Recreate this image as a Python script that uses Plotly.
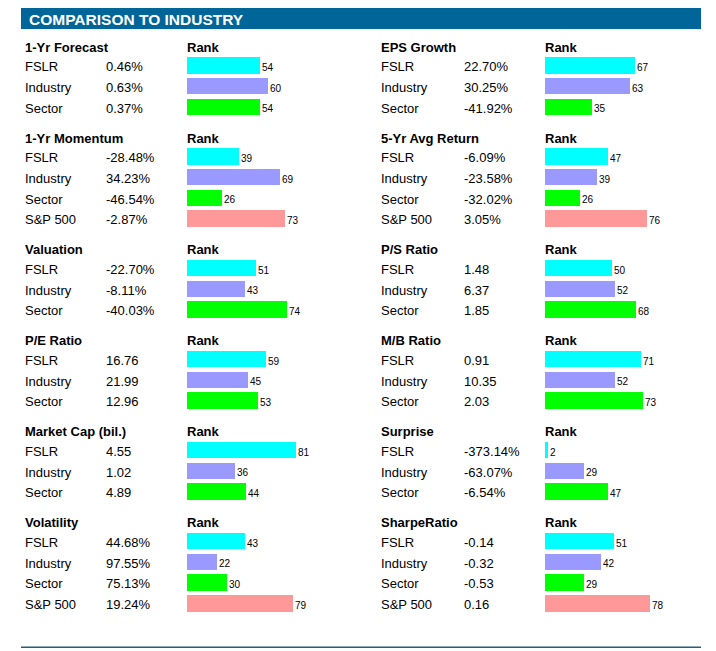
import plotly.graph_objects as go

W, H = 716, 651

# ---------------- data ----------------
row_names = ["FSLR", "Industry", "Sector", "S&P 500"]
row_colors = ["#00FFFF", "#9999FF", "#00FF00", "#FF9999"]

left_titles = ["1-Yr Forecast", "1-Yr Momentum", "Valuation", "P/E Ratio",
               "Market Cap (bil.)", "Volatility"]
left_values = [["0.46%", "0.63%", "0.37%"],
               ["-28.48%", "34.23%", "-46.54%", "-2.87%"],
               ["-22.70%", "-8.11%", "-40.03%"],
               ["16.76", "21.99", "12.96"],
               ["4.55", "1.02", "4.89"],
               ["44.68%", "97.55%", "75.13%", "19.24%"]]
left_ranks = [[54, 60, 54], [39, 69, 26, 73], [51, 43, 74], [59, 45, 53],
              [81, 36, 44], [43, 22, 30, 79]]

right_titles = ["EPS Growth", "5-Yr Avg Return", "P/S Ratio", "M/B Ratio",
                "Surprise", "SharpeRatio"]
right_values = [["22.70%", "30.25%", "-41.92%"],
                ["-6.09%", "-23.58%", "-32.02%", "3.05%"],
                ["1.48", "6.37", "1.85"],
                ["0.91", "10.35", "2.03"],
                ["-373.14%", "-63.07%", "-6.54%"],
                ["-0.14", "-0.32", "-0.53", "0.16"]]
right_ranks = [[67, 63, 35], [47, 39, 26, 76], [50, 52, 68], [71, 52, 73],
               [2, 29, 47], [51, 42, 29, 78]]

# ---------------- layout geometry ----------------
FONT = "Liberation Sans, Arial, sans-serif"
PITCH = 20.8
GAP = 28.6
START = 65.3
BAR_H = 16.7
SCALE = 1.345  # px per rank unit

columns = [
    dict(titles=left_titles, values=left_values, ranks=left_ranks,
         lab_x=25, val_x=106, bar_x=187, axis="x"),
    dict(titles=right_titles, values=right_values, ranks=right_ranks,
         lab_x=382, val_x=464, bar_x=545, axis="x2"),
]

fig = go.Figure()
annotations = []
TX = -1.5  # compensation for annotation box padding


def ann(x, y, text, size=13, bold=False, color="#000000", xanchor="left"):
    annotations.append(dict(
        x=(x + TX) / W, xref="paper", y=y, yref="y",
        text=f"<b>{text}</b>" if bold else text,
        showarrow=False, xanchor=xanchor, yanchor="middle", borderpad=0,
        font=dict(family=FONT, size=size, color=color)))


for col in columns:
    ys, xs, cols = [], [], []
    s = START
    for k, title in enumerate(col["titles"]):
        n = len(col["ranks"][k])
        ann(col["lab_x"], s - 18.3, title, bold=True)
        ann(col["bar_x"], s - 18.3, "Rank", bold=True)
        for i in range(n):
            yc = s + i * PITCH
            r = col["ranks"][k][i]
            ann(col["lab_x"], yc + 1.2, row_names[i])
            ann(col["val_x"], yc + 1.2, col["values"][k][i])
            ys.append(yc)
            xs.append(r)
            cols.append(row_colors[i])
            # rank label placed at bar end on the data axis
            annotations.append(dict(
                x=r, xref=col["axis"], y=yc + 2, yref="y", text=str(r),
                showarrow=False, xanchor="left", yanchor="middle", borderpad=0,
                xshift=1, font=dict(family=FONT, size=10, color="#000000")))
        s += n * PITCH + GAP
    fig.add_trace(go.Bar(
        x=xs, y=ys, orientation="h", width=BAR_H, base=0,
        marker=dict(color=cols, line=dict(width=0)),
        cliponaxis=False, xaxis=col["axis"], yaxis="y",
        hoverinfo="skip", showlegend=False))

# header bar + title
shapes = [
    dict(type="rect", xref="paper", yref="y", x0=21 / W, x1=701 / W, y0=8, y1=29,
         fillcolor="#006699", line=dict(width=0), layer="below"),
    dict(type="line", xref="paper", yref="y", x0=21 / W, x1=701 / W, y0=647.3, y1=647.3,
         line=dict(color="#1F5F80", width=1.5)),
]
annotations.append(dict(
    x=(29 + TX) / W, xref="paper", y=19.5, yref="y", text="<b>COMPARISON TO INDUSTRY</b>",
    showarrow=False, xanchor="left", yanchor="middle", borderpad=0,
    font=dict(family=FONT, size=15.5, color="#FFFFFF")))

lx0 = -columns[0]["bar_x"] / SCALE
rx0 = -columns[1]["bar_x"] / SCALE
span = W / SCALE

axis_common = dict(visible=False, showgrid=False, zeroline=False, fixedrange=True)
fig.update_layout(
    width=W, height=H,
    margin=dict(l=0, r=0, t=0, b=0),
    paper_bgcolor="#FFFFFF", plot_bgcolor="#FFFFFF",
    bargap=0,
    xaxis=dict(range=[lx0, lx0 + span], domain=[0, 1], **axis_common),
    xaxis2=dict(range=[rx0, rx0 + span], overlaying="x", **axis_common),
    yaxis=dict(range=[H, 0], domain=[0, 1], **axis_common),
    shapes=shapes,
    annotations=annotations,
)

fig.write_html("out.html")
